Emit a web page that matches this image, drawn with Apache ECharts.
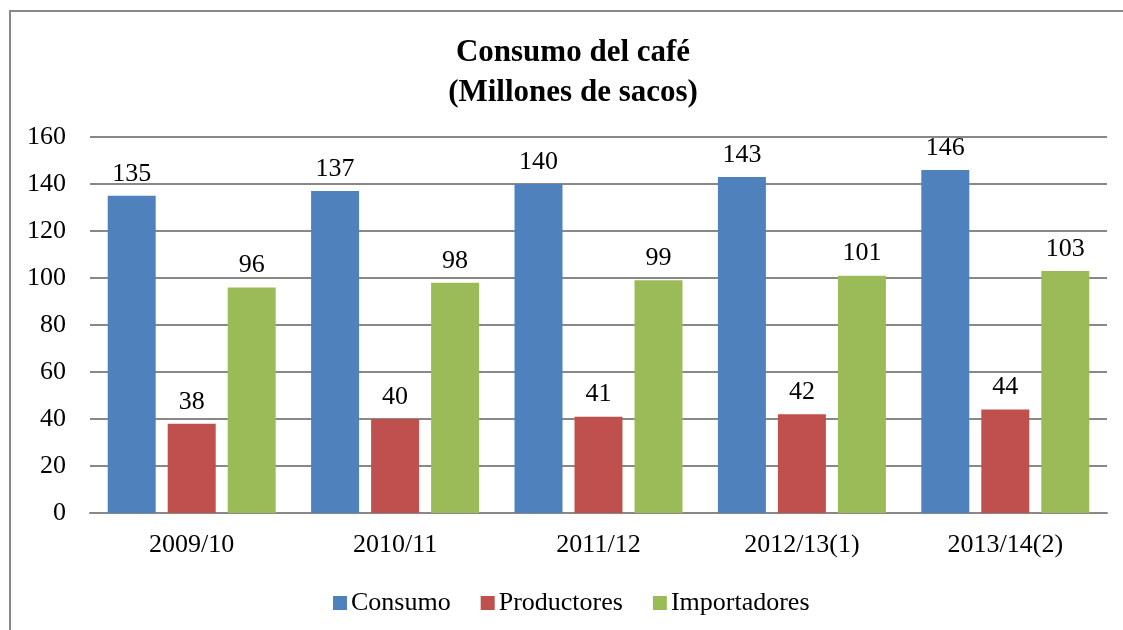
<!DOCTYPE html>
<html>
<head>
<meta charset="utf-8">
<script src="https://cdn.jsdelivr.net/npm/echarts@6/dist/echarts.min.js"></script>
<style>
  html, body { margin: 0; padding: 0; background: #fff; }
  #chart { width: 1123px; height: 630px; }
</style>
</head>
<body>
<div id="chart"></div>
<script>
// datos
const categorias = ["2009/10", "2010/11", "2011/12", "2012/13(1)", "2013/14(2)"];
const consumo = [135, 137, 140, 143, 146];
const productores = [38, 40, 41, 42, 44];
const importadores = [96, 98, 99, 101, 103];
const series_nombres = ["Consumo", "Productores", "Importadores"];
const colores = ["#4F81BD", "#C0504D", "#9BBB59"];

const fuente = "'Liberation Serif', 'Times New Roman', serif";

const chart = echarts.init(document.getElementById("chart"));

const etiqueta = {
  show: true,
  position: "top",
  distance: 9,
  color: "#000",
  fontFamily: fuente,
  fontSize: 26,
};

const option = {
  animation: false,
  textStyle: { fontFamily: fuente },
  title: {
    text: "Consumo del café\n(Millones de sacos)",
    left: 568,
    top: 28,
    textAlign: "center",
    textStyle: {
      fontFamily: fuente,
      fontSize: 31,
      fontWeight: "bold",
      color: "#000",
      lineHeight: 40,
    },
  },
  // marco del gráfico (cortado a la derecha y abajo)
  graphic: [
    {
      type: "polyline",
      silent: true,
      shape: { points: [[10, 640], [10, 11], [1130, 11]] },
      style: { stroke: "#888", lineWidth: 2, fill: null },
    },
  ],
  legend: {
    data: series_nombres,
    left: 328,
    top: 585,
    icon: "rect",
    itemWidth: 14,
    itemHeight: 14,
    itemGap: 30,
    textStyle: { fontFamily: fuente, fontSize: 26, color: "#000", padding: [0, 0, 0, -1] },
  },
  grid: { left: 90, right: 16, top: 137, bottom: 117 },
  xAxis: {
    type: "category",
    data: categorias,
    axisTick: { show: false },
    axisLine: { lineStyle: { color: "#888", width: 2 } },
    axisLabel: { color: "#000", fontFamily: fuente, fontSize: 26, margin: 19 },
  },
  yAxis: {
    type: "value",
    min: 0,
    max: 160,
    interval: 20,
    axisLine: { show: false },
    axisTick: { show: false },
    splitLine: { lineStyle: { color: "#888", width: 2 } },
    axisLabel: { color: "#000", fontFamily: fuente, fontSize: 26, margin: 24 },
  },
  series: [
    { name: series_nombres[0], type: "bar", data: consumo, itemStyle: { color: colores[0] }, barWidth: 48, barGap: "25%", label: etiqueta },
    { name: series_nombres[1], type: "bar", data: productores, itemStyle: { color: colores[1] }, barWidth: 48, barGap: "25%", label: etiqueta },
    { name: series_nombres[2], type: "bar", data: importadores, itemStyle: { color: colores[2] }, barWidth: 48, barGap: "25%", label: etiqueta },
  ],
};

chart.setOption(option);
</script>
</body>
</html>
